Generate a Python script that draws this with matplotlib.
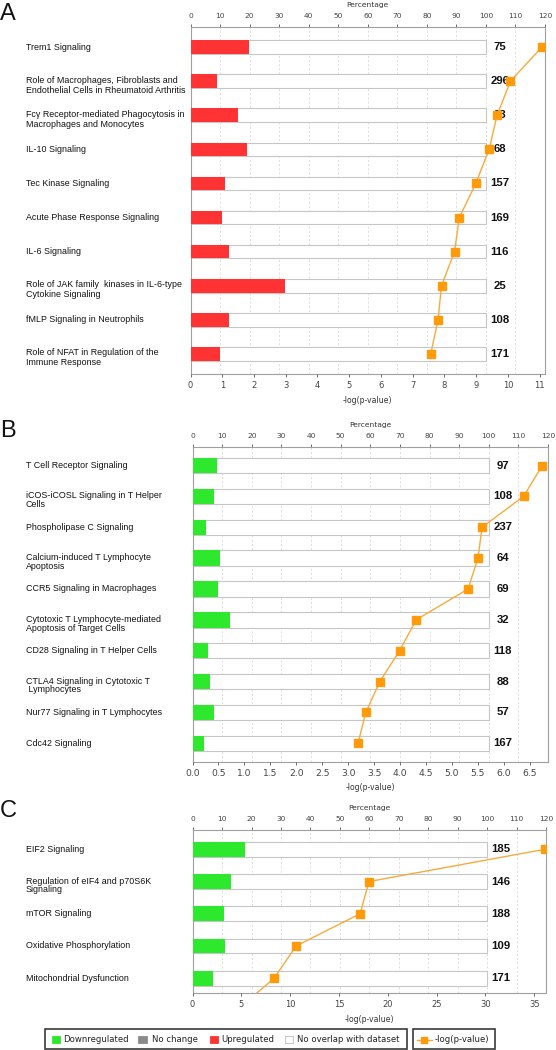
import matplotlib
matplotlib.use("Agg")
import matplotlib.pyplot as plt
from matplotlib.patches import Rectangle
from matplotlib.lines import Line2D
import numpy as np

# ---------------- data ----------------
a_paths = ["Trem1 Signaling",
           "Role of Macrophages, Fibroblasts and\nEndothelial Cells in Rheumatoid Arthritis",
           "Fcγ Receptor-mediated Phagocytosis in\nMacrophages and Monocytes",
           "IL-10 Signaling",
           "Tec Kinase Signaling",
           "Acute Phase Response Signaling",
           "IL-6 Signaling",
           "Role of JAK family  kinases in IL-6-type\nCytokine Signaling",
           "fMLP Signaling in Neutrophils",
           "Role of NFAT in Regulation of the\nImmune Response"]
a_pct = [19.9, 8.9, 16.2, 19.2, 11.6, 10.7, 12.9, 31.9, 12.9, 9.9]
a_logp = [11.07, 10.08, 9.66, 9.41, 8.99, 8.47, 8.32, 7.91, 7.80, 7.57]
a_counts = [75, 296, 83, 68, 157, 169, 116, 25, 108, 171]

b_paths = ["T Cell Receptor Signaling",
           "iCOS-iCOSL Signaling in T Helper\nCells",
           "Phospholipase C Signaling",
           "Calcium-induced T Lymphocyte\nApoptosis",
           "CCR5 Signaling in Macrophages",
           "Cytotoxic T Lymphocyte-mediated\nApoptosis of Target Cells",
           "CD28 Signaling in T Helper Cells",
           "CTLA4 Signaling in Cytotoxic T\n Lymphocytes",
           "Nur77 Signaling in T Lymphocytes",
           "Cdc42 Signaling"]
b_pct = [8.3, 7.4, 4.4, 9.3, 8.7, 12.7, 5.2, 5.8, 7.1, 3.8]
b_logp = [6.74, 6.38, 5.58, 5.50, 5.31, 4.31, 3.99, 3.61, 3.34, 3.19]
b_counts = [97, 108, 237, 64, 69, 32, 118, 88, 57, 167]

c_paths = ["EIF2 Signaling",
           "Regulation of eIF4 and p70S6K\nSignaling",
           "mTOR Signaling",
           "Oxidative Phosphorylation",
           "Mitochondrial Dysfunction"]
c_pct = [17.7, 12.9, 10.7, 11.1, 6.9]
c_logp = [36.07, 18.07, 17.16, 10.6, 8.36]
c_logp_offchart = [4.5]   # next pathway, below the visible rows (line runs off the chart)
c_counts = [185, 146, 188, 109, 171]

legend_labels = ["Downregulated", "No change", "Upregulated", "No overlap with dataset"]
legend_line_label = "-log(p-value)"

RED = "#ff3333"
GREEN = "#2ee82e"
GRAY = "#8a8a8a"
ORANGE_LINE = "#f7aa3c"
ORANGE_MK = "#ff9b0a"

W, H = 556, 1050
fig = plt.figure(figsize=(W / 100, H / 100), dpi=100)


def px_axes(left, right, top, bottom):
    return fig.add_axes([left / W, 1 - bottom / H, (right - left) / W, (bottom - top) / H])


def panel(box, paths, pct, logp, counts, color, logmax, logticks, logfmt,
          ylim_pad, bar_h, lsp, bottom_fs, extra_logp=None):
    left, right, top, bottom = box
    ax = px_axes(left, right, top, bottom)
    tw = ax.twiny()
    n = len(paths)
    y = np.arange(n)
    # percentage (top axis)
    ax.set_xlim(0, 120)
    ax.set_ylim(n - 1 + ylim_pad[1], -ylim_pad[0])
    ax.barh(y, [100] * n, height=bar_h, color="white", edgecolor="#c6c6c6",
            linewidth=0.8, zorder=2)
    ax.barh(y, pct, height=bar_h, color=color, edgecolor="none", zorder=3)
    ax.xaxis.tick_top()
    ax.set_xticks(np.arange(0, 121, 10))
    ax.tick_params(axis="x", which="both", bottom=False, labelbottom=False,
                   top=True, labeltop=True, labelsize=5.4, colors="#555555",
                   length=2, width=0.6, pad=3.5, labelcolor="#444444")
    for lab in ax.get_xticklabels():
        lab.set_fontfamily("DejaVu Sans")
    ax.set_yticks([])
    ax.grid(axis="x", linestyle=(0, (2.5, 2.5)), color="#d9d9d9", linewidth=0.6, zorder=0)
    ax.set_axisbelow(True)
    for s in ax.spines.values():
        s.set_color("#a0a0a0")
        s.set_linewidth(0.8)
    ax.annotate("Percentage", xy=(0.5, 1), xycoords="axes fraction",
                xytext=(0, 21.7 * 0.72), textcoords="offset points",
                ha="center", va="center", fontsize=5.4, color="#333333",
                family="DejaVu Sans")
    # count labels
    for yi, c in zip(y, counts):
        ax.text(104.7, yi, str(c), ha="center", va="center", fontsize=8.2,
                fontweight="bold", family="Liberation Sans", color="#111111", zorder=4)
    # pathway labels
    for yi, p in zip(y, paths):
        off = -4 * 0.72 if "\n" in p else 0
        ax.annotate(p, xy=(26 / W, yi), xycoords=("figure fraction", "data"),
                    xytext=(0, off), textcoords="offset points",
                    ha="left", va="center", fontsize=6.4, linespacing=lsp,
                    family="Liberation Sans", color="#111111", annotation_clip=False)
    # -log(p) (bottom axis), drawn on twin so it sits above the bars
    tw.set_xlim(0, logmax)
    tw.xaxis.tick_bottom()
    tw.set_xticks(logticks)
    tw.set_xticklabels([logfmt.format(t) for t in logticks])
    tw.tick_params(axis="x", which="both", top=False, labeltop=False,
                   bottom=True, labelbottom=True, labelsize=bottom_fs,
                   colors="#555555", length=2.5, width=0.6, pad=2.6,
                   labelcolor="#444444")
    for lab in tw.get_xticklabels():
        lab.set_fontfamily("DejaVu Sans")
    for s in tw.spines.values():
        s.set_visible(False)
    yy = list(y)
    xx = list(logp)
    if extra_logp:
        xx = xx + list(extra_logp)
        yy = yy + list(range(n, n + len(extra_logp)))
    tw.plot(xx, yy, color=ORANGE_LINE, linewidth=1.0, zorder=5)
    tw.plot(logp, y, linestyle="none", marker="s", markersize=5.3,
            color=ORANGE_MK, zorder=6)
    tw.set_ylim(ax.get_ylim())
    tw.annotate("-log(p-value)", xy=(0.5, 0), xycoords="axes fraction",
                xytext=(0, -25.7 * 0.72), textcoords="offset points",
                ha="center", va="center", fontsize=5.6, color="#333333",
                family="DejaVu Sans")
    return ax


panel((190.5, 545, 26.7, 374.3), a_paths, a_pct, a_logp, a_counts, RED,
      11.17, list(range(0, 12)), "{:d}", (0.6, 0.6), 0.4, 1.15, 6.0)
panel((192.5, 548, 447, 761.8), b_paths, b_pct, b_logp, b_counts, GREEN,
      6.85, [round(v, 1) for v in np.arange(0, 6.51, 0.5)], "{:.1f}", (0.6, 0.6), 0.5, 0.97, 6.6)
panel((192.6, 546, 830, 993.3), c_paths, c_pct, c_logp, c_counts, GREEN,
      36.2, list(range(0, 36, 5)), "{:d}", (0.6, 0.47), 0.46, 0.97, 6.0,
      extra_logp=c_logp_offchart)

# panel letters
for letter, ypx in [("A", 13.5), ("B", 431), ("C", 811)]:
    fig.text(0 / W, 1 - ypx / H, letter, fontsize=17, family="Liberation Sans",
             ha="left", va="center", color="#111111")

# legend (pixel-space overlay)
lg = fig.add_axes([0, 0, 1, 1])
lg.set_xlim(0, W)
lg.set_ylim(H, 0)
lg.axis("off")
lg.add_patch(Rectangle((45, 1028.5), 361.7, 20.5, fill=False, edgecolor="#3a3a3a", lw=1.2))
lg.add_patch(Rectangle((413, 1028.5), 82, 20.5, fill=False, edgecolor="#3a3a3a", lw=1.2))
sq_x = [51.7, 138.3, 210, 285]
tx_x = [63.3, 151.7, 221.7, 296.7]
sq_col = [GREEN, GRAY, RED, "white"]
for sx, tx, col, lab in zip(sq_x, tx_x, sq_col, legend_labels):
    lg.add_patch(Rectangle((sx, 1035.7), 8.3, 7.6, facecolor=col,
                           edgecolor="#bbbbbb" if col == "white" else col, lw=0.6))
    lg.text(tx, 1039.5, lab, fontsize=6.1, family="DejaVu Sans", va="center",
            ha="left", color="#222222")
lg.add_line(Line2D([416.7, 431.7], [1039.5, 1039.5], color=ORANGE_LINE, lw=1.0))
lg.plot([424.2], [1039.5], marker="s", markersize=5.0, color=ORANGE_MK)
lg.text(435, 1039.5, legend_line_label, fontsize=6.1, family="DejaVu Sans",
        va="center", ha="left", color="#222222")

fig.savefig("out.png", dpi=100)
